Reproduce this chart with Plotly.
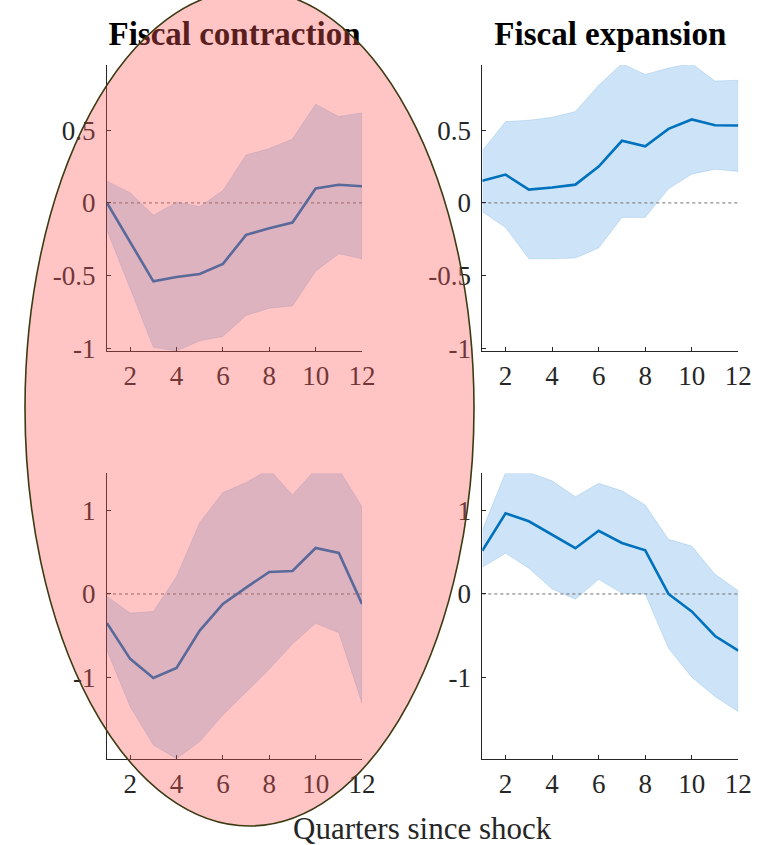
import plotly.graph_objects as go

quarters = list(range(1, 13))

# Top row (y range approx -1 .. 0.95)
contr_top_mean = [0.0, -0.27, -0.54, -0.51, -0.49, -0.42, -0.22, -0.175, -0.135, 0.10, 0.125, 0.115]
contr_top_upper = [0.15, 0.07, -0.085, 0.005, -0.025, 0.085, 0.33, 0.375, 0.44, 0.68, 0.595, 0.62]
contr_top_lower = [-0.19, -0.59, -0.995, -1.02, -0.95, -0.92, -0.775, -0.725, -0.71, -0.47, -0.35, -0.385]

exp_top_mean = [0.152, 0.195, 0.092, 0.106, 0.126, 0.25, 0.428, 0.39, 0.51, 0.575, 0.535, 0.533]
exp_top_upper = [0.36, 0.56, 0.57, 0.59, 0.63, 0.81, 0.96, 0.885, 0.93, 0.96, 0.84, 0.845]
exp_top_lower = [-0.06, -0.17, -0.385, -0.385, -0.38, -0.31, -0.10, -0.10, 0.097, 0.198, 0.232, 0.216]

# Bottom row (y range approx -2 .. 1.45)
contr_bot_mean = [-0.35, -0.78, -1.01, -0.89, -0.44, -0.12, 0.076, 0.265, 0.277, 0.553, 0.493, -0.12]
contr_bot_upper = [-0.03, -0.23, -0.21, 0.21, 0.86, 1.22, 1.34, 1.50, 1.19, 1.50, 1.50, 1.05]
contr_bot_lower = [-0.68, -1.355, -1.815, -1.98, -1.775, -1.455, -1.186, -0.906, -0.60, -0.353, -0.465, -1.315]

exp_bot_mean = [0.52, 0.97, 0.874, 0.71, 0.55, 0.76, 0.613, 0.525, 0.0, -0.21, -0.505, -0.68]
exp_bot_upper = [0.77, 1.46, 1.46, 1.36, 1.17, 1.33, 1.24, 1.07, 0.657, 0.577, 0.236, 0.04]
exp_bot_lower = [0.32, 0.49, 0.31, 0.06, -0.064, 0.176, 0.008, 0.0, -0.653, -1.0, -1.234, -1.415]

panel_titles = ["Fiscal contraction", "Fiscal expansion"]
x_ticks = [2, 4, 6, 8, 10, 12]
top_yticks = [-1, -0.5, 0, 0.5]
top_yticklabels = ["-1", "-0.5", "0", "0.5"]
bot_yticks = [-1, 0, 1]
bot_yticklabels = ["-1", "0", "1"]
x_title = "Quarters since shock"

W, H = 758, 845
FONT = "Liberation Serif"
LINE_C = "#0072BD"
BAND_C = "rgb(204,227,248)"
AX_C = "#262626"

fig = go.Figure()

panels = [
    ("", contr_top_mean, contr_top_upper, contr_top_lower),
    ("2", exp_top_mean, exp_top_upper, exp_top_lower),
    ("3", contr_bot_mean, contr_bot_upper, contr_bot_lower),
    ("4", exp_bot_mean, exp_bot_upper, exp_bot_lower),
]

for suf, mean, up, lo in panels:
    xa, ya = "x" + suf, "y" + suf
    fig.add_trace(go.Scatter(
        x=quarters + quarters[::-1], y=up + lo[::-1], fill="toself",
        fillcolor=BAND_C, line=dict(color="rgba(0,114,189,0.18)", width=0.8),
        mode="lines", xaxis=xa, yaxis=ya, hoverinfo="skip", showlegend=False))
    fig.add_trace(go.Scatter(
        x=[quarters[0], quarters[-1]], y=[0, 0], mode="lines",
        line=dict(color="#6f6f6f", width=1, dash="dot"),
        xaxis=xa, yaxis=ya, hoverinfo="skip", showlegend=False))
    fig.add_trace(go.Scatter(
        x=quarters, y=mean, mode="lines", line=dict(color=LINE_C, width=2.6),
        xaxis=xa, yaxis=ya, showlegend=False))

# invisible traces for the title axes
fig.add_trace(go.Scatter(x=[6.5], y=[0], mode="markers", marker=dict(opacity=0),
                         xaxis="x5", yaxis="y", hoverinfo="skip", showlegend=False))
fig.add_trace(go.Scatter(x=[6.5], y=[0], mode="markers", marker=dict(opacity=0),
                         xaxis="x6", yaxis="y2", hoverinfo="skip", showlegend=False))

xl = [107 / W, 362 / W]
xr = [482.3 / W, 738.3 / W]
yt = [1 - 351 / H, 1 - 65 / H]
yb = [1 - 759 / H, 1 - 473.3 / H]

tickfont = dict(family=FONT, size=27, color=AX_C)

def xaxis(dom, anchor):
    return dict(domain=dom, anchor=anchor, range=[1, 12], tickvals=x_ticks,
                ticktext=[str(v) for v in x_ticks], ticks="inside", ticklen=4,
                tickcolor=AX_C, showline=True, linecolor=AX_C, linewidth=1,
                showgrid=False, zeroline=False, tickfont=tickfont,
                ticklabelstandoff=1, fixedrange=True, automargin=False)

def yaxis(dom, anchor, rng, tv, tt):
    return dict(domain=dom, anchor=anchor, range=rng, tickvals=tv, ticktext=tt,
                ticks="inside", ticklen=4, tickcolor=AX_C, showline=True,
                linecolor=AX_C, linewidth=1, showgrid=False, zeroline=False,
                tickfont=tickfont, ticklabelstandoff=5, fixedrange=True,
                automargin=False)

top_rng = [-1.02, 0.95]
bot_rng = [-1.984, 1.451]

def title_axis(over, pos):
    return dict(overlaying=over, anchor="free", position=pos, side="top",
                range=[1, 12], tickvals=[6.5], showline=False, showgrid=False,
                zeroline=False, ticks="", fixedrange=True, automargin=False,
                tickfont=dict(family=FONT, size=33, color="black"))

fig.update_layout(
    width=W, height=H, margin=dict(l=0, r=0, t=0, b=0, autoexpand=False),
    paper_bgcolor="white", plot_bgcolor="rgba(0,0,0,0)", showlegend=False,
    xaxis=xaxis(xl, "y"), yaxis=yaxis(yt, "x", top_rng, top_yticks, top_yticklabels),
    xaxis2=xaxis(xr, "y2"), yaxis2=yaxis(yt, "x2", top_rng, top_yticks, top_yticklabels),
    xaxis3=xaxis(xl, "y3"), yaxis3=yaxis(yb, "x3", bot_rng, bot_yticks, bot_yticklabels),
    xaxis4=xaxis(xr, "y4"), yaxis4=yaxis(yb, "x4", bot_rng, bot_yticks, bot_yticklabels),
    xaxis5=dict(title_axis("x", 1 - 52 / H), ticktext=["<b>" + panel_titles[0] + "</b>"]),
    xaxis6=dict(title_axis("x2", 1 - 52 / H), ticktext=["<b>" + panel_titles[1] + "</b>"]),
)

fig.add_annotation(text=x_title, xref="paper", yref="paper", x=422 / W, y=1 - 828 / H,
                   xanchor="center", yanchor="middle", showarrow=False,
                   font=dict(family=FONT, size=31, color=AX_C))

# highlight ellipse drawn over the left column
fig.add_shape(type="circle", xref="paper", yref="paper",
              x0=25 / W, x1=474 / W, y0=1 - 826 / H, y1=1 + 10 / H,
              fillcolor="rgba(255,90,90,0.35)", line=dict(color="#3b3b14", width=1.6),
              layer="above")

fig.write_html("out.html")
